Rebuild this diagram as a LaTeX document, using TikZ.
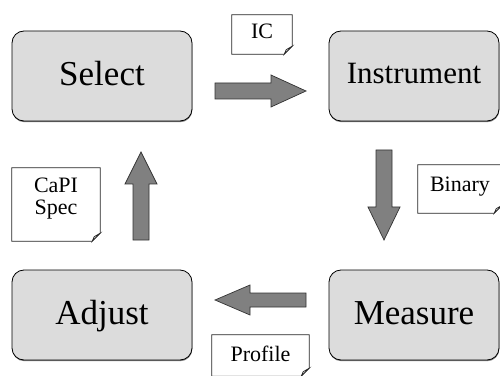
\documentclass[tikz,border=0pt]{standalone}
\usepackage{fontspec}
\setmainfont{Liberation Serif}
\usetikzlibrary{shadows}
\definecolor{boxgray}{HTML}{DCDCDC}
\definecolor{arrowgray}{HTML}{808080}
\newcommand\notefold[1]{%
  \draw[noteline] (#1.north west) -- (#1.north east) -- ([yshift=8pt]#1.south east) -- ([xshift=-8pt]#1.south east) -- (#1.south west) -- cycle;
  \draw[noteline, fill=black!12] ([yshift=8pt]#1.south east) -- ([xshift=-6pt,yshift=4.5pt]#1.south east) -- ([xshift=-8pt]#1.south east) -- cycle;
}
\begin{document}
\begin{tikzpicture}[x=1pt,y=1pt,
  box/.style={draw=black, line width=0.8pt, fill=boxgray, rounded corners=12pt,
    minimum width=180pt, minimum height=90pt, inner sep=0pt,
    text height=19pt, text depth=0pt, font=\fontsize{35}{40}\selectfont,
    drop shadow={shadow xshift=0.3pt, shadow yshift=-1.2pt, fill=black!50, opacity=1}},
  noteline/.style={draw=black!85, line width=0.7pt, fill=white, line join=miter},
  noteshape/.style={inner sep=0pt, draw=none},
  notetext/.style={font=\fontsize{22}{22}\selectfont, inner sep=0pt, align=center},
  blockarrow/.style={draw=black!80, line width=0.7pt, fill=arrowgray, line join=miter}
]
\useasboundingbox (0,0) rectangle (500,375);
\clip (0,0) rectangle (500,375);

% process boxes
\node[box] (select) at (102,299) {Select};
\node[box, minimum width=170pt, text height=16pt, font=\fontsize{31}{36}\selectfont] (instr) at (414,299) {Instrument};
\node[box, minimum width=170pt] (measure) at (414,60) {Measure};
\node[box] (adjust) at (102,60) {Adjust};

% block arrows
\draw[blockarrow] (215,292) -- (271,292) -- (271,300) -- (306,284) -- (271,268) -- (271,276) -- (215,276) -- cycle;
\draw[blockarrow] (376,225) -- (392,225) -- (392,168) -- (400,168) -- (384,135) -- (368,168) -- (376,168) -- cycle;
\draw[blockarrow] (306,82) -- (250,82) -- (250,90) -- (215,75) -- (250,60) -- (250,68) -- (306,68) -- cycle;
\draw[blockarrow] (133,135) -- (149,135) -- (149,191) -- (157,191) -- (141,223) -- (125,191) -- (133,191) -- cycle;

% document notes
\node[noteshape, minimum width=60pt, minimum height=39pt] (ic) at (262,340.5) {};
\notefold{ic}
\node[notetext, anchor=base] (icT) at (262,336) {IC};

\node[noteshape, minimum width=84pt, minimum height=48pt] (bin) at (460,186) {};
\notefold{bin}
\node[notetext, anchor=base] (binT) at (460,183) {Binary};

\node[noteshape, minimum width=88pt, minimum height=73pt] (capi) at (56,170.5) {};
\notefold{capi}
\node[notetext, anchor=north] (capiT) at (56,197.5) {CaPI\\Spec};

\node[noteshape, minimum width=97pt, minimum height=41pt] (prof) at (260.5,19.5) {};
\notefold{prof}
\node[notetext, anchor=base] (profT) at (260.5,14) {Profile};
\end{tikzpicture}
\end{document}
